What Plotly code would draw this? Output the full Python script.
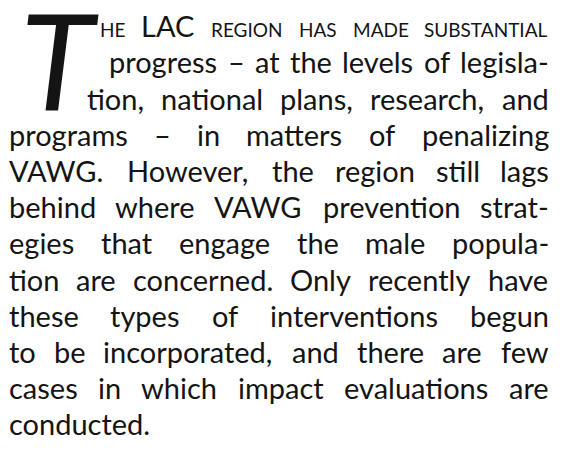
import os
import struct
import plotly.graph_objects as go

# ---------------- content ----------------
drop_cap = "T"
first_line_words = ["HE", "LAC", "REGION", "HAS", "MADE", "SUBSTANTIAL"]
first_line_small_caps = [True, False, True, True, True, True]
body_lines = [
    "progress – at the levels of legisla-",
    "tion, national plans, research, and",
    "programs – in matters of penalizing",
    "VAWG. However, the region still lags",
    "behind where VAWG prevention strat-",
    "egies that engage the male popula-",
    "tion are concerned. Only recently have",
    "these types of interventions begun",
    "to be incorporated, and there are few",
    "cases in which impact evaluations are",
    "conducted.",
]

# ---------------- layout constants ----------------
W, H = 562, 461
PAGE_OFFSET = 8                   # default body margin of the written page
FAMILY = "Lato"
SIZE = 29
SC_SIZE = 19
CAP_SIZE = 135
COLOR = "#141414"
LEFT, RIGHT = 9, 549
INDENTS = [100, 109, 87]          # lines 1..3 sit beside the drop cap
BASE0, PITCH = 37, 36.2


# ---------------- font metrics (for justification) ----------------
def find_font(basenames):
    dirs = ["/usr/share/fonts", "/usr/local/share/fonts",
            os.path.expanduser("~/.fonts"), os.path.expanduser("~/.local/share/fonts")]
    for d in dirs:
        for root, _, files in os.walk(d):
            for f in files:
                if f in basenames:
                    return os.path.join(root, f)
    return None


def load_font(path):
    with open(path, "rb") as fh:
        d = fh.read()
    base = 0
    if d[:4] == b"ttcf":
        base = struct.unpack(">I", d[12:16])[0]
    n = struct.unpack(">H", d[base + 4:base + 6])[0]
    t = {}
    for i in range(n):
        r = base + 12 + 16 * i
        t[d[r:r + 4].decode("latin1")] = struct.unpack(">I", d[r + 8:r + 12])[0]
    upem = struct.unpack(">H", d[t["head"] + 18:t["head"] + 20])[0]
    hh = t["hhea"]
    asc, desc = struct.unpack(">hh", d[hh + 4:hh + 8])
    nhm = struct.unpack(">H", d[hh + 34:hh + 36])[0]
    hm = t["hmtx"]
    adv = [struct.unpack(">H", d[hm + 4 * i:hm + 4 * i + 2])[0] for i in range(nhm)]
    cm = t["cmap"]
    nsub = struct.unpack(">H", d[cm + 2:cm + 4])[0]
    subs = {}
    for i in range(nsub):
        pid, eid, off = struct.unpack(">HHI", d[cm + 4 + 8 * i:cm + 12 + 8 * i])
        subs[(pid, eid)] = cm + off

    def U(p):
        return struct.unpack(">H", d[p:p + 2])[0]

    s = None
    fmt = None
    for key in [(3, 10), (0, 4), (3, 1), (0, 3), (0, 1), (0, 0)]:
        if key in subs:
            cand = subs[key]
            f = U(cand)
            if f in (4, 12):
                s, fmt = cand, f
                break

    def gid(c):
        if s is None:
            return None
        if fmt == 12:
            ng = struct.unpack(">I", d[s + 12:s + 16])[0]
            for g in range(ng):
                a, b, sg = struct.unpack(">III", d[s + 16 + 12 * g:s + 28 + 12 * g])
                if a <= c <= b:
                    return sg + c - a
            return 0
        segx2 = U(s + 6)
        ends = s + 14
        starts = ends + segx2 + 2
        deltas = starts + segx2
        ranges = deltas + segx2
        for i in range(segx2 // 2):
            if U(ends + 2 * i) >= c:
                st = U(starts + 2 * i)
                if st > c:
                    return 0
                dl = U(deltas + 2 * i)
                ro = U(ranges + 2 * i)
                if ro == 0:
                    return (c + dl) & 0xFFFF
                g = U(ranges + 2 * i + ro + 2 * (c - st))
                return (g + dl) & 0xFFFF if g else 0
        return 0

    cache = {}

    def advance(ch):
        if ch not in cache:
            g = gid(ord(ch))
            if not g:
                cache[ch] = 0.5 * upem
            else:
                cache[ch] = adv[min(g, nhm - 1)]
        return cache[ch]

    return {"upem": upem, "asc": asc, "desc": desc, "advance": advance}


font_path = find_font({"Lato-Regular.ttf", "Lato-Reg.ttf", "Lato-Regular.otf"})
FM = load_font(font_path) if font_path else None


def text_width(txt, size):
    if FM is None:
        return sum(0.62 if c.isupper() else 0.5 if c != " " else 0.26 for c in txt) * size
    return sum(FM["advance"](c) for c in txt) * size / FM["upem"]


def center_offset(size):
    # distance from the baseline up to the centre of the text line box
    if FM is None:
        return 0.387 * size
    return (FM["asc"] + FM["desc"]) / 2.0 * size / FM["upem"]


def px_to_paper(x, y):
    # x, y are positions on the photographed page
    return (x - PAGE_OFFSET) / W, 1 - (y - PAGE_OFFSET) / H


annotations = []


def add_word(txt, x, baseline, size, anchor="left", style="normal"):
    xp, yp = px_to_paper(x, baseline - center_offset(size))
    annotations.append(dict(
        text=txt, x=xp, y=yp, xref="paper", yref="paper",
        xanchor=anchor, yanchor="middle", showarrow=False,
        borderpad=0, borderwidth=0,
        font=dict(family=FAMILY, size=size, color=COLOR, style=style),
    ))


def place_line(words, sizes, left, right, baseline, justify):
    widths = [text_width(w, s) for w, s in zip(words, sizes)]
    if justify and len(words) > 1:
        gap = (right - left - sum(widths)) / (len(words) - 1)
    else:
        gap = text_width(" ", SIZE)
    x = left
    for w, s, wd in zip(words, sizes, widths):
        add_word(w, x, baseline, s)
        x += wd + gap


# drop cap
add_word(drop_cap, 60, 111, CAP_SIZE, anchor="center", style="italic")

# first line (small caps around "LAC")
place_line(first_line_words,
           [SC_SIZE if sc else SIZE for sc in first_line_small_caps],
           INDENTS[0], RIGHT, BASE0, True)

for i, line in enumerate(body_lines):
    k = i + 1
    left = INDENTS[k] if k < len(INDENTS) else LEFT
    words = line.split(" ")
    justify = i < len(body_lines) - 1
    place_line(words, [SIZE] * len(words), left, RIGHT, BASE0 + k * PITCH, justify)

fig = go.Figure()
fig.update_layout(
    width=W, height=H, autosize=False,
    margin=dict(l=0, r=0, t=0, b=0, pad=0),
    paper_bgcolor="white", plot_bgcolor="white",
    xaxis=dict(visible=False, range=[0, 1]),
    yaxis=dict(visible=False, range=[0, 1]),
    annotations=annotations,
    showlegend=False,
)
fig.write_html("out.html")
